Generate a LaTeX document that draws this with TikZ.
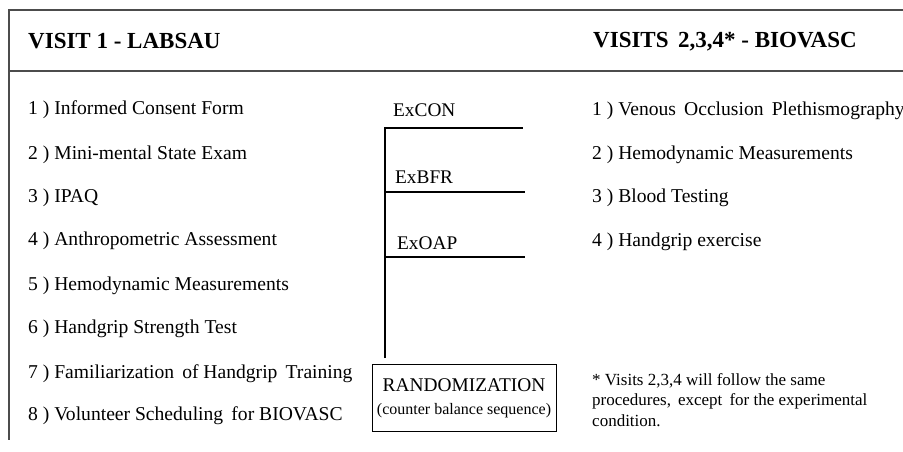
\documentclass[tikz,border=0pt]{standalone}
\usepackage{fontspec}
\setmainfont{Liberation Serif}
\begin{document}
\begin{tikzpicture}[x=1pt,y=-1pt,
    item/.style={anchor=west,inner sep=0pt,yshift=-2pt,font=\fontsize{19.6}{23}\selectfont},
    head/.style={anchor=west,inner sep=0pt,font=\fontsize{23}{27}\selectfont\bfseries},
    arm/.style={anchor=west,inner sep=0pt,font=\fontsize{19.3}{22}\selectfont},
    frame/.style={line width=1.1pt,draw=black!70}]
    \useasboundingbox (0,0) rectangle (903,451);
    % frame
    \draw[frame] (903,10) -- (9,10) -- (9,440);
    \draw[frame] (9,71) -- (903,71);
    \node[head] (h1) at (28,41) {VISIT 1 - LABSAU};
    \node[head] (h2) at (593,42) {VISITS\, 2,3,4* - BIOVASC};
    % visit 1
    \node[item] (l1) at (28,108) {1 ) Informed Consent Form};
    \node[item] (l2) at (28,153) {2 ) Mini-mental State Exam};
    \node[item] (l3) at (28,196) {3 ) IPAQ};
    \node[item] (l4) at (28,239) {4 ) Anthropometric Assessment};
    \node[item] (l5) at (28,284) {5 ) Hemodynamic Measurements};
    \node[item] (l6) at (28,327) {6 ) Handgrip Strength Test};
    \node[item] (l7) at (28,372) {7 ) Familiarization\, of Handgrip\, Training};
    \node[item] (l8) at (28,414) {8 ) Volunteer Scheduling\, for BIOVASC};
    % visits 2,3,4
    \node[item] (r1) at (592,109) {1 ) Venous\, Occlusion\, Plethismography};
    \node[item] (r2) at (592,153) {2 ) Hemodynamic Measurements};
    \node[item] (r3) at (592,196) {3 ) Blood Testing};
    \node[item] (r4) at (592,240) {4 ) Handgrip exercise};
    % randomization
    \node[draw,line width=0.8pt,minimum width=184pt,minimum height=67pt,align=center,
        font=\fontsize{19.4}{23}\selectfont] (rand) at (464,398)
        {RANDOMIZATION\\[0pt]{\fontsize{16}{19}\selectfont(counter balance sequence)}};
    \coordinate (foot) at (385,358);
    \coordinate (con) at (523,128);
    \coordinate (bfr) at (525,192);
    \coordinate (oap) at (525,257);
    \draw[line width=1.3pt] (foot) -- (foot |- con) -- (con);
    \draw[line width=1.3pt] (foot |- bfr) -- (bfr);
    \draw[line width=1.3pt] (foot |- oap) -- (oap);
    \node[arm] (excon) at (393,110) {ExCON};
    \node[arm] (exbfr) at (395,177) {ExBFR};
    \node[arm] (exoap) at (397,243) {ExOAP};
    % footnote
    \node[anchor=north west,inner sep=0pt,align=left,
        font=\fontsize{17}{20.5}\selectfont] (note) at (592,373)
        {* Visits 2,3,4 will follow the same\\procedures,\, except\, for the experimental\\condition.};
\end{tikzpicture}
\end{document}
